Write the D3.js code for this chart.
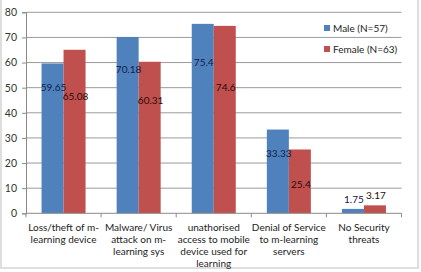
<!DOCTYPE html>
<html>
<head>
<meta charset="utf-8">
<script src="https://cdn.jsdelivr.net/npm/d3@7"></script>
<style>
html,body{margin:0;padding:0;background:#fff;}
svg{display:block;font-family:Lato,"Liberation Sans",Arial,sans-serif;}
</style>
</head>
<body>
<svg id="chart" width="421" height="272"></svg>
<script>
const categories = [
  ["Loss/theft of m-", "learning device"],
  ["Malware/ Virus", "attack on m-", "learning sys"],
  ["unathorised", "access to mobile", "device used for", "learning"],
  ["Denial of Service", "to m-learning", "servers"],
  ["No Security", "threats"]
];
const seriesNames = ["Male (N=57)", "Female (N=63)"];
const maleValues = [59.65, 70.18, 75.4, 33.33, 1.75];
const femaleValues = [65.08, 60.31, 74.6, 25.4, 3.17];
const maleLabels = ["59.65", "70.18", "75.4", "33.33", "1.75"];
const femaleLabels = ["65.08", "60.31", "74.6", "25.4", "3.17"];
// where each data label sits, in value units (manually placed labels)
const maleLabelAt = [49.9, 57.4, 60.2, 24.0, 5.5];
const femaleLabelAt = [46.3, 45.0, 49.9, 11.3, 6.9];
const yTicks = [0, 10, 20, 30, 40, 50, 60, 70, 80];
const colors = ["#4F81BD", "#C0504D"];

const svg = d3.select("#chart");
const pLeft = 26, pRight = 401.5, pTop = 12.3, pBottom = 213.3;

// outer frame
svg.append("rect").attr("x", 1).attr("y", -2).attr("width", 417).attr("height", 270)
  .attr("fill", "none").attr("stroke", "#d4d4d4").attr("stroke-width", 1.5);

const x = d3.scaleBand().domain(d3.range(categories.length)).range([pLeft, pRight])
  .paddingInner(0.414).paddingOuter(0.207);
const xs = d3.scaleBand().domain([0, 1]).range([0, x.bandwidth()]);
const y = d3.scaleLinear().domain([0, 80]).range([pBottom, pTop]);

// gridlines
svg.append("g").selectAll("line").data(yTicks.filter(d => d > 0)).join("line")
  .attr("x1", pLeft).attr("x2", pRight)
  .attr("y1", d => y(d)).attr("y2", d => y(d))
  .attr("stroke", "#9a9a9a").attr("stroke-width", 1);

// y axis
const yAxis = svg.append("g").attr("transform", `translate(${pLeft},0)`)
  .call(d3.axisLeft(y).tickValues(yTicks).tickSize(4).tickPadding(5));
yAxis.select(".domain").attr("stroke", "#8a8a8a");
yAxis.selectAll(".tick line").attr("stroke", "#8a8a8a");
yAxis.selectAll("text").attr("font-size", "10.5px").attr("fill", "#333")
  .attr("font-family", "Lato, 'Liberation Sans', sans-serif");

// bars
const series = [maleValues, femaleValues];
const labels = [maleLabels, femaleLabels];
const labelAt = [maleLabelAt, femaleLabelAt];
series.forEach((vals, s) => {
  svg.append("g").selectAll("rect").data(vals).join("rect")
    .attr("x", (d, i) => x(i) + xs(s))
    .attr("width", xs.bandwidth())
    .attr("y", d => y(d))
    .attr("height", d => y(0) - y(d))
    .attr("fill", colors[s]);
});

// x axis line and ticks
const xAxisG = svg.append("g");
xAxisG.append("line").attr("x1", pLeft).attr("x2", pRight).attr("y1", pBottom).attr("y2", pBottom)
  .attr("stroke", "#8a8a8a");
const boundaries = d3.range(categories.length + 1).map(i => pLeft + i * x.step());
xAxisG.selectAll(".tk").data(boundaries).join("line")
  .attr("x1", d => d).attr("x2", d => d).attr("y1", pBottom).attr("y2", pBottom + 4)
  .attr("stroke", "#8a8a8a");

// data labels
series.forEach((vals, s) => {
  svg.append("g").selectAll("text").data(vals).join("text")
    .attr("x", (d, i) => x(i) + xs(s) + xs.bandwidth() / 2 + 1)
    .attr("y", (d, i) => y(labelAt[s][i]))
    .attr("dy", "0.35em")
    .attr("text-anchor", "middle")
    .attr("font-size", "10px")
    .attr("fill", s === 0 ? "#10204a" : "#2a0a0a")
    .text((d, i) => labels[s][i]);
});

// category labels
categories.forEach((lines, i) => {
  const t = svg.append("text").attr("text-anchor", "middle")
    .attr("font-size", "10px").attr("fill", "#222");
  lines.forEach((ln, j) => {
    t.append("tspan").attr("x", x(i) + x.bandwidth() / 2).attr("y", 231 + j * 12).text(ln);
  });
});

// legend
const lg = svg.append("g");
seriesNames.forEach((n, s) => {
  const yy = 28 + s * 21;
  lg.append("rect").attr("x", 324).attr("y", yy - 3).attr("width", 6).attr("height", 6).attr("fill", colors[s]);
  lg.append("text").attr("x", 333).attr("y", yy).attr("dy", "0.35em")
    .attr("font-size", "10px").attr("fill", "#222").text(n);
});
</script>
</body>
</html>
